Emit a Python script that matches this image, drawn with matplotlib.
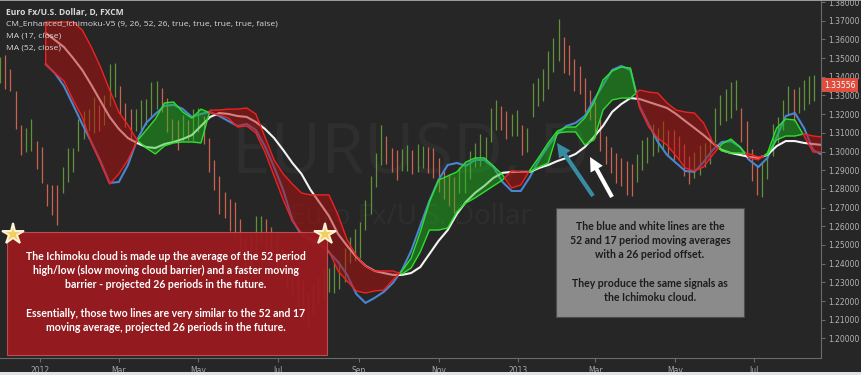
"""EUR/USD daily with Ichimoku cloud and two moving averages (dark chart style)."""

import matplotlib

matplotlib.use("Agg")
import matplotlib.pyplot as plt  # noqa: E402
import matplotlib.transforms as mtransforms  # noqa: E402
from matplotlib.patches import Rectangle  # noqa: E402
import numpy as np  # noqa: E402
import pandas as pd  # noqa: E402

nan = np.nan

# indicator lines, sampled weekly from 2011-12-01
week_start = "2011-12-01"
ma_fast = [nan] * 5 + [
    1.3468, 1.3420, 1.3350, 1.3250, 1.3147, 1.3051, 1.2949, 1.2832, 1.2837, 1.2928,
    1.3062, 1.3153, 1.3201, 1.3244, 1.3250, 1.3228, 1.3185, 1.3201, 1.3212, 1.3190,
    1.3163, 1.3137, 1.3147, 1.3115, 1.3029, 1.2917, 1.2794, 1.2634, 1.2554, 1.2527,
    1.2500, 1.2462, 1.2409, 1.2340, 1.2238, 1.2190, 1.2217, 1.2249, 1.2297, 1.2366,
    1.2468, 1.2602, 1.2736, 1.2848, 1.2928, 1.2939, 1.2923, 1.2955, 1.2955, 1.2917,
    1.2837, 1.2789, 1.2789, 1.2864, 1.2955, 1.3029, 1.3094, 1.3137, 1.3153, 1.3190,
    1.3276, 1.3356, 1.3436, 1.3458, 1.3436, 1.3244, 1.3147, 1.3051, 1.2982, 1.2939,
    1.2896, 1.2891, 1.2944, 1.3008, 1.3051, 1.3056, 1.3024, 1.2955, 1.2917, 1.2966,
    1.3078, 1.3190, 1.3206, 1.3126, 1.3008, 1.2982]
ma_slow = [nan] * 5 + [
    1.3634, 1.3597, 1.3559, 1.3500, 1.3436, 1.3356, 1.3270, 1.3185, 1.3121, 1.3072,
    1.3046, 1.3024, 1.3019, 1.3040, 1.3051, 1.3067, 1.3088, 1.3137, 1.3185, 1.3206,
    1.3201, 1.3190, 1.3185, 1.3158, 1.3121, 1.3072, 1.3008, 1.2939, 1.2880, 1.2794,
    1.2725, 1.2655, 1.2559, 1.2495, 1.2436, 1.2388, 1.2361, 1.2350, 1.2340, 1.2340,
    1.2350, 1.2382, 1.2452, 1.2522, 1.2580, 1.2666, 1.2731, 1.2779, 1.2816, 1.2859,
    1.2886, 1.2891, 1.2891, 1.2891, 1.2912, 1.2928, 1.2949, 1.2966, 1.2987, 1.3024,
    1.3078, 1.3137, 1.3212, 1.3254, 1.3286, 1.3281, 1.3265, 1.3249, 1.3233, 1.3201,
    1.3163, 1.3126, 1.3088, 1.3046, 1.3008, 1.2992, 1.2982, 1.2971, 1.2966, 1.2982,
    1.3029, 1.3056, 1.3056, 1.3046, 1.3040, 1.3035]
span_a = [nan] * 5 + [
    1.3463, 1.3420, 1.3377, 1.3276, 1.3185, 1.3046, 1.2939, 1.2826, 1.2880, 1.2955,
    1.3056, 1.3115, 1.3174, 1.3260, 1.3265, 1.3212, 1.3179, 1.3227, 1.3206, 1.3196,
    1.3179, 1.3131, 1.3137, 1.3099, 1.2997, 1.2869, 1.2741, 1.2628, 1.2564, 1.2538,
    1.2511, 1.2468, 1.2361, 1.2307, 1.2254, 1.2243, 1.2254, 1.2259, 1.2313, 1.2361,
    1.2430, 1.2569, 1.2730, 1.2848, 1.2869, 1.2891, 1.2944, 1.2966, 1.2966, 1.2923,
    1.2875, 1.2805, 1.2821, 1.2901, 1.2971, 1.3046, 1.3110, 1.3131, 1.3131, 1.3179,
    1.3260, 1.3383, 1.3431, 1.3452, 1.3447, 1.3233, 1.3131, 1.3072, 1.3035, 1.2976,
    1.2912, 1.2896, 1.2917, 1.2982, 1.3040, 1.3067, 1.3024, 1.2966, 1.2955, 1.2992,
    1.3126, 1.3174, 1.3169, 1.3083, 1.2997, 1.2997]
span_b = [nan] * 5 + [
    1.3693, 1.3693, 1.3693, 1.3693, 1.3650, 1.3559, 1.3452, 1.3329, 1.3211, 1.3142,
    1.3062, 1.3019, 1.2987, 1.3030, 1.3046, 1.3051, 1.3051, 1.3046, 1.3222, 1.3222,
    1.3227, 1.3227, 1.3233, 1.3201, 1.3078, 1.2955, 1.2880, 1.2826, 1.2778, 1.2768,
    1.2768, 1.2768, 1.2661, 1.2527, 1.2441, 1.2388, 1.2361, 1.2361, 1.2361, 1.2345,
    1.2377, 1.2463, 1.2580, 1.2580, 1.2591, 1.2677, 1.2725, 1.2752, 1.2784, 1.2816,
    1.2848, 1.2896, 1.2891, 1.2891, 1.2917, 1.2939, 1.3099, 1.3105, 1.3105, 1.3035,
    1.3062, 1.3222, 1.3276, 1.3286, 1.3286, 1.3329, 1.3318, 1.3313, 1.3260, 1.3222,
    1.3211, 1.3206, 1.3153, 1.3051, 1.3003, 1.2992, 1.2992, 1.2987, 1.2971, 1.2982,
    1.3062, 1.3083, 1.3083, 1.3094, 1.3083, 1.3078]

# price bars every 4 days: middle of the bar and its high-low range
bar_start = "2011-12-01"
bar_mid = [
    1.3436, 1.3426, 1.3383, 1.3222, 1.3062, 1.3062, 1.3089, 1.2981, 1.2928, 1.2768,
    1.2741, 1.2714, 1.2848, 1.2928, 1.2955, 1.3089, 1.3142, 1.3169, 1.3196, 1.3179,
    1.3222, 1.3356, 1.3383, 1.3276, 1.3196, 1.3142, 1.3169, 1.3196, 1.3212, 1.3276,
    1.3303, 1.3276, 1.3196, 1.3115, 1.3089, 1.3126, 1.3115, 1.3142, 1.3169, 1.3115,
    1.2981, 1.2875, 1.2768, 1.2714, 1.2661, 1.2634, 1.2527, 1.2447, 1.2473, 1.2554,
    1.2580, 1.2554, 1.2527, 1.2473, 1.2409, 1.2366, 1.2302, 1.2259, 1.2206, 1.2152,
    1.2206, 1.2259, 1.2286, 1.2313, 1.2324, 1.2340, 1.2393, 1.2473, 1.2500, 1.2527,
    1.2661, 1.2768, 1.2901, 1.3035, 1.3008, 1.2955, 1.2928, 1.2955, 1.2965, 1.2944,
    1.2965, 1.2971, 1.2955, 1.2939, 1.2875, 1.2821, 1.2794, 1.2768, 1.2848, 1.2859,
    1.2928, 1.2981, 1.3008, 1.3008, 1.3142, 1.3196, 1.3179, 1.3142, 1.3142, 1.3153,
    1.3062, 1.3062, 1.3276, 1.3319, 1.3356, 1.3436, 1.3517, 1.3597, 1.3517, 1.3490,
    1.3410, 1.3383, 1.3303, 1.3249, 1.3169, 1.3089, 1.3008, 1.2955, 1.2912, 1.2891,
    1.2859, 1.2848, 1.2912, 1.2981, 1.3008, 1.3062, 1.3062, 1.3089, 1.3046, 1.3035,
    1.3019, 1.2955, 1.2901, 1.2928, 1.2955, 1.2981, 1.3008, 1.3142, 1.3222, 1.3249,
    1.3276, 1.3303, 1.3142, 1.3062, 1.2928, 1.2848, 1.2848, 1.2928, 1.3062, 1.3115,
    1.3196, 1.3276, 1.3249, 1.3276, 1.3303, 1.3329, 1.3340]
bar_range = [
    0.014, 0.018, 0.012, 0.020, 0.016, 0.013, 0.017, 0.015, 0.019, 0.012,
    0.016, 0.021, 0.014, 0.018, 0.013, 0.017, 0.015, 0.012, 0.019, 0.014,
    0.016, 0.022, 0.018, 0.015, 0.013, 0.017, 0.012, 0.016, 0.014, 0.019,
    0.015, 0.013, 0.018, 0.012, 0.016, 0.014, 0.011, 0.017, 0.013, 0.015,
    0.018, 0.016, 0.020, 0.014, 0.017, 0.019, 0.022, 0.018, 0.016, 0.020,
    0.015, 0.017, 0.014, 0.018, 0.016, 0.019, 0.015, 0.017, 0.021, 0.018,
    0.016, 0.014, 0.017, 0.013, 0.016, 0.015, 0.018, 0.014, 0.017, 0.019,
    0.016, 0.020, 0.018, 0.021, 0.015, 0.013, 0.016, 0.012, 0.014, 0.013,
    0.015, 0.012, 0.014, 0.016, 0.018, 0.015, 0.017, 0.019, 0.014, 0.016,
    0.015, 0.013, 0.017, 0.014, 0.018, 0.016, 0.013, 0.015, 0.012, 0.014,
    0.016, 0.013, 0.018, 0.015, 0.017, 0.020, 0.018, 0.022, 0.019, 0.016,
    0.017, 0.015, 0.018, 0.016, 0.019, 0.017, 0.015, 0.014, 0.016, 0.015,
    0.018, 0.017, 0.015, 0.016, 0.014, 0.017, 0.013, 0.015, 0.014, 0.016,
    0.013, 0.017, 0.015, 0.014, 0.016, 0.013, 0.015, 0.018, 0.016, 0.017,
    0.019, 0.016, 0.018, 0.020, 0.017, 0.016, 0.018, 0.015, 0.017, 0.014,
    0.016, 0.015, 0.017, 0.014, 0.016, 0.015, 0.014]
last_price = 1.33556

month_ticks = ["2012-01-01", "2012-03-01", "2012-05-01", "2012-07-01", "2012-09-01",
               "2012-11-01", "2013-01-01", "2013-03-01", "2013-05-01", "2013-07-01"]
month_labels = ["2012", "Mar", "May", "Jul", "Sep", "Nov", "2013", "Mar", "May", "Jul"]
price_ticks = [1.20, 1.21, 1.22, 1.23, 1.24, 1.25, 1.26, 1.27, 1.28, 1.29,
               1.30, 1.31, 1.32, 1.33, 1.34, 1.35, 1.36, 1.37, 1.38]

legend_lines = ["Euro Fx/U.S. Dollar, D, FXCM",
                "CM_Enhanced_Ichimoku-V5 (9, 26, 52, 26, true, true, true, true, false)",
                "MA (17, close)",
                "MA (52, close)"]
note_red = ("The Ichimoku cloud is made up the average of the 52 period\n"
            "high/low (slow moving cloud barrier) and a faster moving\n"
            "barrier - projected 26 periods in the future.\n\n"
            "Essentially, those two lines are very similar to the 52 and 17\n"
            "moving average, projected 26 periods in the future.")
note_grey = ("The blue and white lines are the\n"
             "52 and 17 period moving averages\n"
             "with a 26 period offset.\n\n"
             "They produce the same signals as\n"
             "the Ichimoku cloud.")

BG = "#262626"
W, H = 861, 375
AX_W, AX_H = 821, 358  # plot pane in pixels (from top-left)


def ax_frac(x, y):
    """pixel position in the pane -> axes fraction"""
    return x / AX_W, 1 - y / AX_H


def main():
    weeks = pd.date_range(week_start, periods=len(ma_fast), freq="7D")
    bar_days = pd.date_range(bar_start, periods=len(bar_mid), freq="4D")

    fig = plt.figure(figsize=(W / 100, H / 100), dpi=100, facecolor=BG)
    ax = fig.add_axes([0, (H - AX_H) / H, AX_W / W, AX_H / H], facecolor=BG)

    # watermark
    ax.text(0.5, 0.567, "EURUSD, D", transform=ax.transAxes, ha="center", va="center",
            fontsize=50, color="#2e2e2e", family="Open Sans", zorder=0)
    ax.text(0.5, 0.394, "Euro Fx/U.S. Dollar", transform=ax.transAxes, ha="center",
            va="center", fontsize=20, color="#2e2e2e", family="Open Sans", zorder=0)

    # price bars
    mid = np.array(bar_mid)
    rng = np.array(bar_range)
    up = np.r_[True, np.diff(mid) >= 0]
    cols = np.where(up, "#65a03a", "#dc6a52")
    ax.vlines(bar_days, mid - rng / 2, mid + rng / 2, colors=cols, linewidth=0.9,
              alpha=0.9, zorder=2)

    # moving averages
    ax.plot(weeks, ma_fast, color="#4a86d0", lw=1.5, zorder=3)
    ax.plot(weeks, ma_slow, color="#f4f4f4", lw=1.5, zorder=3)

    # cloud
    a = np.array(span_a)
    b = np.array(span_b)
    ax.fill_between(weeks, a, b, where=a >= b, interpolate=True,
                    facecolor=(0.1, 0.75, 0.1, 0.45), edgecolor="#2ee02e", lw=1.0, zorder=4)
    ax.fill_between(weeks, a, b, where=a < b, interpolate=True,
                    facecolor=(0.72, 0.05, 0.05, 0.5), edgecolor="#ee2222", lw=1.0, zorder=4)

    ax.set_xlim(pd.Timestamp("2011-12-01"), pd.Timestamp("2013-08-21"))
    ax.set_ylim(1.18954, 1.38107)

    ax.set_xticks(pd.to_datetime(month_ticks))
    ax.set_xticklabels(month_labels)
    ax.yaxis.tick_right()
    ax.set_yticks(price_ticks)
    ax.set_yticklabels([f"{v:.5f}" for v in price_ticks])
    ax.tick_params(axis="x", length=3, color="#6a6a6a", pad=3, labelsize=5.5,
                   labelcolor="#a8a8a8")
    ax.tick_params(axis="y", length=3, color="#6a6a6a", pad=2, labelsize=5.5,
                   labelcolor="#b4b4b4")
    for side in ("top", "left"):
        ax.spines[side].set_visible(False)
    for side in ("bottom", "right"):
        ax.spines[side].set_color("#6a6a6a")
        ax.spines[side].set_linewidth(0.8)

    # last price tag
    trans = mtransforms.blended_transform_factory(ax.transAxes, ax.transData)
    ax.text(1.004, last_price, f"{last_price:.5f}", transform=trans, ha="left", va="center",
            fontsize=5.5, color="white", clip_on=False, zorder=20,
            bbox=dict(boxstyle="square,pad=0.3", fc="#de4f40", ec="none"))

    # header
    for i, line in enumerate(legend_lines):
        fig.text(6 / W, 1 - (12.5 + 11.7 * i) / H, line, ha="left", va="center",
                 fontsize=6.1, color="#dadada", family="Open Sans",
                 weight="bold" if i == 0 else "normal")

    # red note box
    x0, y0 = ax_frac(7, 355)
    x1, y1 = ax_frac(327, 232)
    ax.add_patch(Rectangle((x0, y0), x1 - x0, y1 - y0, transform=ax.transAxes,
                           facecolor="#9b1a1f", alpha=0.94, edgecolor="#c45050",
                           lw=0.8, zorder=10))
    ax.text(*ax_frac(166, 292), note_red, transform=ax.transAxes, ha="center", va="center",
            fontsize=7.6, color="white", family="Lato", weight="bold", linespacing=1.35,
            zorder=11)
    for sx in (13, 325):
        ax.plot(*ax_frac(sx, 234), marker="*", markersize=16, color="#f3cf62",
                markeredgecolor="#fdf3d6", markeredgewidth=1.4, transform=ax.transAxes,
                clip_on=False, zorder=12)

    # grey note box
    x0, y0 = ax_frac(556, 317)
    x1, y1 = ax_frac(744, 208)
    ax.add_patch(Rectangle((x0, y0), x1 - x0, y1 - y0, transform=ax.transAxes,
                           facecolor="#8b8b8b", edgecolor="#4c4c4c", lw=0.8, zorder=10))
    ax.text(*ax_frac(650, 262), note_grey, transform=ax.transAxes, ha="center", va="center",
            fontsize=7.6, color="#1c1c1c", family="Lato", weight="bold", linespacing=1.35,
            zorder=11)

    # arrows
    for tail, head, col in (((593, 196), (557, 143), "#3a8ca2"),
                            ((612, 197), (590, 157), "#ffffff")):
        ax.annotate("", xy=ax_frac(*head), xytext=ax_frac(*tail),
                    xycoords="axes fraction", textcoords="axes fraction",
                    arrowprops=dict(arrowstyle="simple,head_length=1.0,head_width=1.0,"
                                    "tail_width=0.3", mutation_scale=10, fc=col, ec="none",
                                    shrinkA=0, shrinkB=0), zorder=12)

    # light frame strip at the bottom and top
    fig.patches.append(Rectangle((0, 0), 1, 3 / H, transform=fig.transFigure,
                                 facecolor="#dde3e8", edgecolor="none"))
    fig.patches.append(Rectangle((0, 1 - 1 / H), 1, 1 / H, transform=fig.transFigure,
                                 facecolor="#9a9a9a", edgecolor="none"))

    fig.savefig("out.png", dpi=100, facecolor=BG)
    print("saved out.png")


if __name__ == "__main__":
    main()
